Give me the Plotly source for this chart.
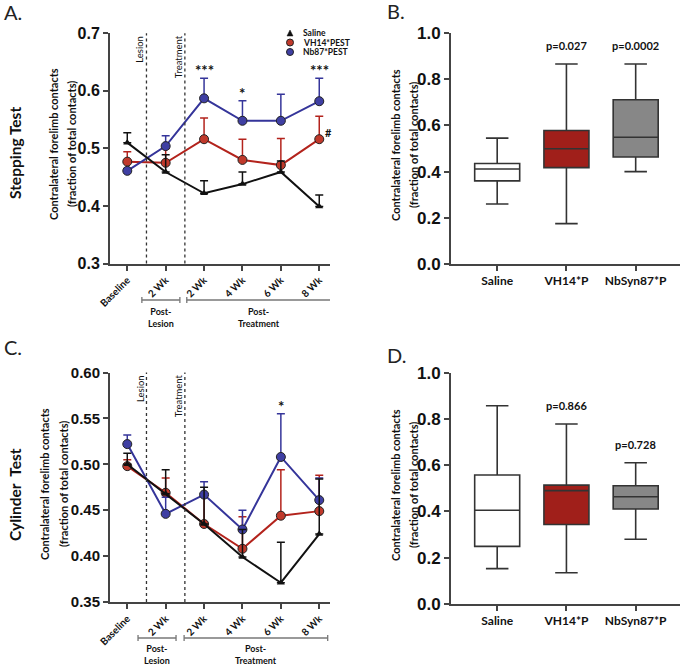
import plotly.graph_objects as go

W, H = 685, 665

# ---------------- data ----------------
time_labels = ["Baseline", "2 Wk", "2 Wk", "4 Wk", "6 Wk", "8 Wk"]
time_pos = [0, 1, 2, 3, 4, 5]

step_saline = [0.510, 0.459, 0.422, 0.438, 0.459, 0.399]
step_saline_err = [0.017, 0.030, 0.022, 0.021, 0.019, 0.020]
step_vh14 = [0.477, 0.475, 0.516, 0.480, 0.471, 0.516]
step_vh14_err = [0.017, 0.025, 0.037, 0.036, 0.046, 0.040]
step_nb87 = [0.461, 0.504, 0.587, 0.548, 0.548, 0.582]
step_nb87_err = [0.004, 0.018, 0.035, 0.035, 0.046, 0.040]

cyl_saline = [0.500, 0.468, 0.435, 0.399, 0.371, 0.424]
cyl_saline_err = [0.012, 0.026, 0.040, 0.030, 0.044, 0.060]
cyl_vh14 = [0.498, 0.469, 0.435, 0.408, 0.444, 0.449]
cyl_vh14_err = [0.007, 0.016, 0.030, 0.035, 0.050, 0.039]
cyl_nb87 = [0.522, 0.446, 0.467, 0.429, 0.508, 0.461]
cyl_nb87_err = [0.010, 0.018, 0.014, 0.021, 0.047, 0.024]

box_groups = ["Saline", "VH14*P", "NbSyn87*P"]
box_pos = [0, 1, 2]
step_low = [0.260, 0.175, 0.400]
step_q1 = [0.360, 0.417, 0.463]
step_med = [0.411, 0.499, 0.549]
step_q3 = [0.435, 0.578, 0.711]
step_high = [0.545, 0.866, 0.866]
step_p = ["", "p=0.027", "p=0.0002"]

cyl_low = [0.153, 0.135, 0.280]
cyl_q1 = [0.249, 0.344, 0.411]
cyl_med = [0.405, 0.490, 0.464]
cyl_q3 = [0.558, 0.514, 0.511]
cyl_high = [0.857, 0.778, 0.611]
cyl_p = ["", "p=0.866", "p=0.728"]

step_sig = ["", "", "***", "*", "", "***"]
cyl_sig = ["", "", "", "", "*", ""]

step_yticks = [0.3, 0.4, 0.5, 0.6, 0.7]
cyl_yticks = [0.35, 0.40, 0.45, 0.50, 0.55, 0.60]
box_yticks = [0.0, 0.2, 0.4, 0.6, 0.8, 1.0]

# ---------------- styles ----------------
C_BLACK = "#111111"
C_RED = "#b3231c"
C_RED_M = "#c0392b"
C_BLUE = "#35359a"
C_BLUE_M = "#3f3fa3"
AX = "#444444"
BOX_FILL = ["#ffffff", "#a01f1a", "#878787"]
LAB = "Lato"
NUM = "Liberation Sans"


def px(x):
    return x / W


def py(y):
    return 1 - y / H


def bold(lst):
    return ["<b>%s</b>" % s for s in lst]


fig = go.Figure()


def add_lines(xa, ya, sal, sal_e, vh, vh_e, nb, nb_e):
    def eb(arr, col):
        return dict(type="data", array=arr, arrayminus=[0] * len(arr), symmetric=False,
                    color=col, thickness=1.5, width=4)
    fig.add_trace(go.Scatter(x=time_pos, y=vh, mode="lines+markers", xaxis=xa, yaxis=ya,
                             line=dict(color=C_RED, width=2), error_y=eb(vh_e, C_RED),
                             marker=dict(symbol="circle", size=9, color=C_RED_M,
                                         line=dict(color="#222", width=1)),
                             showlegend=False, name="VH14*PEST"))
    fig.add_trace(go.Scatter(x=time_pos, y=nb, mode="lines+markers", xaxis=xa, yaxis=ya,
                             line=dict(color=C_BLUE, width=2), error_y=eb(nb_e, C_BLUE),
                             marker=dict(symbol="circle", size=9, color=C_BLUE_M,
                                         line=dict(color="#222", width=1)),
                             showlegend=False, name="Nb87*PEST"))
    fig.add_trace(go.Scatter(x=time_pos, y=sal, mode="lines+markers", xaxis=xa, yaxis=ya,
                             line=dict(color=C_BLACK, width=2), error_y=eb(sal_e, C_BLACK),
                             marker=dict(symbol="triangle-up", size=7, color=C_BLACK),
                             showlegend=False, name="Saline"))


def add_boxes(xa, ya, low, q1, med, q3, high):
    for i in range(3):
        fig.add_trace(go.Box(x=[box_pos[i]], q1=[q1[i]], median=[med[i]], q3=[q3[i]],
                             lowerfence=[low[i]], upperfence=[high[i]],
                             xaxis=xa, yaxis=ya, width=0.65, whiskerwidth=0.5,
                             fillcolor=BOX_FILL[i], line=dict(color="#333333", width=1.6),
                             boxpoints=False, showlegend=False, name=box_groups[i]))


add_lines("x", "y", step_saline, step_saline_err, step_vh14, step_vh14_err, step_nb87, step_nb87_err)
add_boxes("x2", "y2", step_low, step_q1, step_med, step_q3, step_high)
add_lines("x3", "y3", cyl_saline, cyl_saline_err, cyl_vh14, cyl_vh14_err, cyl_nb87, cyl_nb87_err)
add_boxes("x4", "y4", cyl_low, cyl_q1, cyl_med, cyl_q3, cyl_high)

dom_left = [px(110), px(330)]
dom_right = [px(451), px(680)]

common_ax = dict(showline=True, linecolor=AX, linewidth=2, ticks="outside", ticklen=5,
                 tickwidth=1.5, tickcolor=AX, showgrid=False, zeroline=False, mirror=False,
                 automargin=False)

line_x = dict(common_ax, tickmode="array", tickvals=time_pos, ticktext=bold(time_labels),
              tickangle=-45, range=[-0.45, 5.28],
              tickfont=dict(family=LAB, size=10, color="#111"))
box_x = dict(common_ax, tickmode="array", tickvals=box_pos, ticktext=bold(box_groups),
             range=[-0.667, 2.64],
             tickfont=dict(family=LAB, size=12, color="#111"))


def yax(dom, anchor, rng, ticks, fmt, size):
    return dict(common_ax, domain=dom, anchor=anchor, range=rng, tickmode="array",
                tickvals=ticks, ticktext=bold([fmt % t for t in ticks]),
                tickfont=dict(family=NUM, size=size, color="#111"))


fig.update_layout(
    width=W, height=H, margin=dict(l=0, r=0, t=0, b=0, pad=0, autoexpand=False),
    paper_bgcolor="white", plot_bgcolor="white", boxmode="overlay", showlegend=False,
    xaxis=dict(line_x, domain=dom_left, anchor="y"),
    yaxis=yax([py(263.5), py(33.3)], "x", [0.3, 0.7], step_yticks, "%.1f", 16),
    xaxis2=dict(box_x, domain=dom_right, anchor="y2"),
    yaxis2=yax([py(264), py(33)], "x2", [0, 1.0], box_yticks, "%.1f", 17),
    xaxis3=dict(line_x, domain=dom_left, anchor="y3"),
    yaxis3=yax([py(602), py(372.5)], "x3", [0.35, 0.60], cyl_yticks, "%.2f", 15),
    xaxis4=dict(box_x, domain=dom_right, anchor="y4"),
    yaxis4=yax([py(604), py(372.7)], "x4", [0, 1.0], box_yticks, "%.1f", 17),
)

shapes = []
ann = []

# dotted event lines + labels
for xr, yr in [("x", "y"), ("x3", "y3")]:
    for xv, lab in [(0.5, "Lesion"), (1.5, "Treatment")]:
        shapes.append(dict(type="line", xref=xr, yref=yr + " domain", x0=xv, x1=xv, y0=0, y1=1,
                           line=dict(color="#333", width=1.3, dash="dot")))
        ann.append(dict(text=lab, xref=xr, yref=yr + " domain", x=xv, y=1.0,
                        xanchor="right", yanchor="top", textangle=-90, showarrow=False,
                        xshift=1, font=dict(family=LAB, size=9.5, color="#111")))

# significance marks
for xr, yr, sig, vals, errs in [("x", "y", step_sig, step_nb87, step_nb87_err),
                                ("x3", "y3", cyl_sig, cyl_nb87, cyl_nb87_err)]:
    for i, s in enumerate(sig):
        if s:
            ann.append(dict(text="<b>%s</b>" % s, xref=xr, yref=yr, x=time_pos[i], y=vals[i] + errs[i],
                            xanchor="center", yanchor="bottom", showarrow=False, yshift=-3,
                            font=dict(family=LAB, size=15, color="#111")))
ann.append(dict(text="<b>#</b>", xref="x", yref="y", x=time_pos[5], y=step_vh14[5],
                xanchor="left", yanchor="bottom", xshift=4, yshift=-2, showarrow=False,
                font=dict(family=LAB, size=11, color="#111")))

# p values
for xr, yr, plist, highs in [("x2", "y2", step_p, step_high), ("x4", "y4", cyl_p, cyl_high)]:
    for i, p in enumerate(plist):
        if p:
            ann.append(dict(text="<b>%s</b>" % p, xref=xr, yref=yr, x=box_pos[i], y=highs[i],
                            xanchor="center", yanchor="bottom", yshift=10, showarrow=False,
                            font=dict(family=LAB, size=11, color="#111")))

# period brackets below line plots
for xr, ybr, ytxt, spans in [("x", 300, 312, [(0.38, 1.37, "Lesion"), (1.55, 5.30, "Treatment")]),
                             ("x3", 638, 649, [(0.28, 1.27, "Lesion"), (1.48, 5.22, "Treatment")])]:
    for a, b, lab in spans:
        shapes.append(dict(type="line", xref=xr, yref="paper", x0=a, x1=b, y0=py(ybr), y1=py(ybr),
                           line=dict(color="#777", width=1.3)))
        for e in (a, b):
            shapes.append(dict(type="line", xref=xr, yref="paper", x0=e, x1=e,
                               y0=py(ybr - 3), y1=py(ybr + 3), line=dict(color="#777", width=1.3)))
        ann.append(dict(text="<b>Post-<br>%s</b>" % lab, xref=xr, yref="paper", x=(a + b) / 2,
                        y=py(ytxt), xanchor="center", yanchor="middle", yshift=-5,
                        showarrow=False, align="center", borderpad=0,
                        font=dict(family=LAB, size=9, color="#111")))

# legend (panel A)
leg = [("Saline", "tri", C_BLACK), ("VH14*PEST", "circ", C_RED_M), ("Nb87*PEST", "circ", C_BLUE_M)]
for k, (name, sym, col) in enumerate(leg):
    yy = 33 + 9.5 * k
    if sym == "tri":
        shapes.append(dict(type="path", xref="paper", yref="paper",
                           path="M %f %f L %f %f L %f %f Z" % (px(287), py(yy + 3), px(293), py(yy + 3),
                                                               px(290), py(yy - 3)),
                           fillcolor=col, line=dict(color=col, width=0.5)))
    else:
        shapes.append(dict(type="circle", xref="paper", yref="paper",
                           x0=px(286.5), x1=px(293.5), y0=py(yy + 3.5), y1=py(yy - 3.5),
                           fillcolor=col, line=dict(color="#222", width=1)))
    ann.append(dict(text="<b>%s</b>" % name, xref="paper", yref="paper", x=px(302), y=py(yy),
                    xanchor="left", yanchor="middle", showarrow=False, borderpad=0,
                    font=dict(family=LAB, size=8.5, color="#111")))

# axis titles
ytitle1 = "<b>Contralateral forelimb contacts</b>"
ytitle2 = "<b>(fraction of total contacts)</b>"
for x1, x2, yc in [(54, 72, 144), (395, 413, 145), (44, 63, 484), (395, 413, 485)]:
    for xx, t in [(x1, ytitle1), (x2, ytitle2)]:
        ann.append(dict(text=t, xref="paper", yref="paper", x=px(xx), y=py(yc),
                        xanchor="center", yanchor="middle", textangle=-90, showarrow=False,
                        font=dict(family=LAB, size=11, color="#111")))

# row titles
for t, yc in [("Stepping Test", 153), ("Cylinder  Test", 495)]:
    ann.append(dict(text="<b>%s</b>" % t, xref="paper", yref="paper", x=px(15), y=py(yc),
                    xanchor="center", yanchor="middle", textangle=-90, showarrow=False,
                    font=dict(family=LAB, size=15.5, color="#111")))

# panel letters
for t, xx, yy in [("A.", 2, 12), ("B.", 385, 11), ("C.", 2, 347), ("D.", 385, 355)]:
    ann.append(dict(text=t, xref="paper", yref="paper", x=px(xx), y=py(yy),
                    xanchor="left", yanchor="middle", showarrow=False,
                    font=dict(family=LAB, size=20, color="#222")))

fig.update_layout(shapes=shapes, annotations=ann)
fig.write_html("out.html", config={"displayModeBar": False},
               post_script="document.body.style.margin='0px';document.body.style.padding='0px';")
